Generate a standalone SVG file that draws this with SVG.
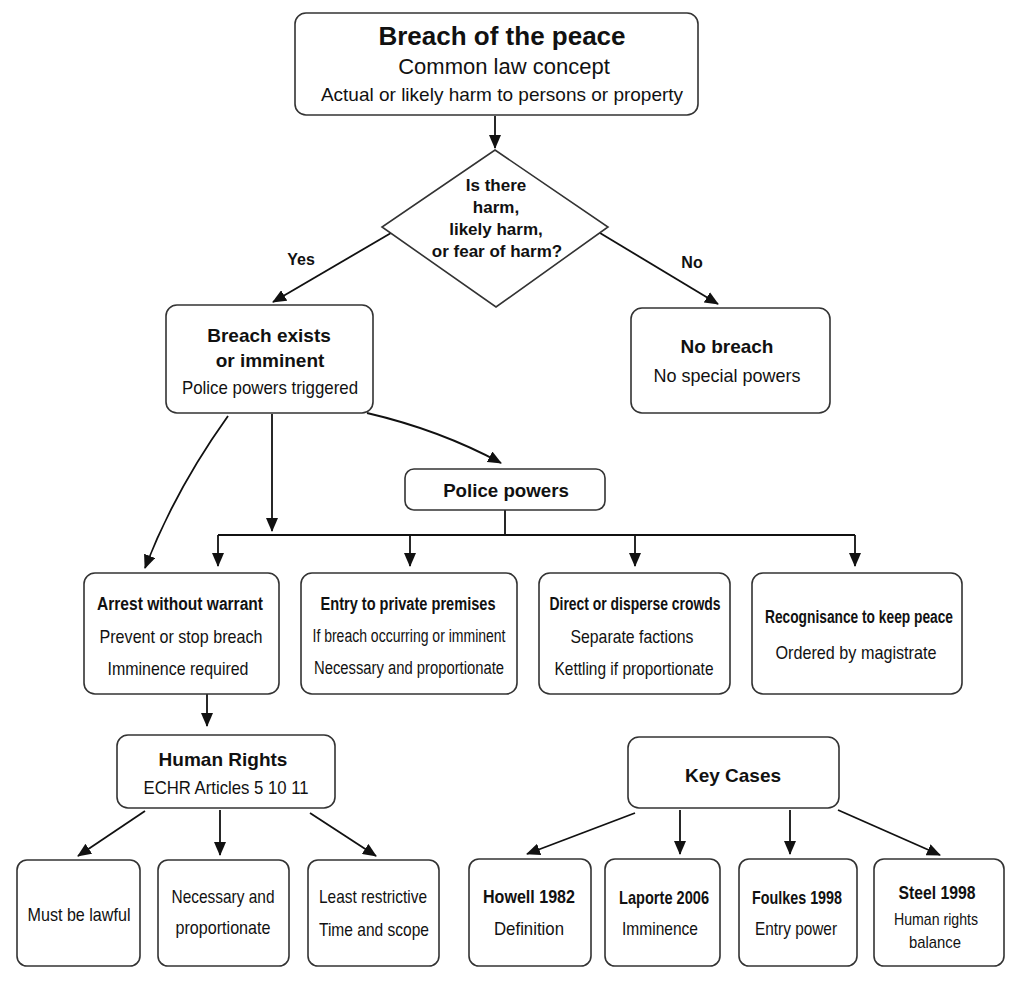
<svg xmlns="http://www.w3.org/2000/svg" width="1021" height="983" viewBox="0 0 1021 983">
<defs>
<marker id="ah" markerWidth="14" markerHeight="12" refX="13" refY="6" orient="auto" markerUnits="userSpaceOnUse"><path d="M0,0 L14,6 L0,12 Z" fill="#111"/></marker>
<style>
.box{fill:#fff;stroke:#333;stroke-width:1.6}
.t{font-family:"Liberation Sans",Arial,sans-serif;fill:#111;text-anchor:middle}
.b{font-weight:bold}
.c{fill:none;stroke:#111;stroke-width:1.8;marker-end:url(#ah)}
.l{fill:none;stroke:#111;stroke-width:1.8}
</style>
</defs>
<rect width="1021" height="983" fill="#fff"/>
<g id="connectors">
<path class="c" d="M495,116 L495,148"/>
<path class="c" d="M391,233 L273,302"/>
<path class="c" d="M600,233 L718,304"/>
<path class="c" d="M228,416 Q175,490 145,568"/>
<path class="c" d="M272,414 L272,531"/>
<path class="c" d="M367,413 Q440,430 501,463"/>
<path class="l" d="M505,510 L505,535 M218,535 L855,535"/>
<path class="c" d="M218,535 L218,566"/>
<path class="c" d="M410,535 L410,566"/>
<path class="c" d="M635,535 L635,566"/>
<path class="c" d="M855,535 L855,566"/>
<path class="c" d="M207,694 L207,726"/>
<path class="c" d="M145,811 L78,856"/>
<path class="c" d="M220,810 L220,855"/>
<path class="c" d="M310,813 L376,856"/>
<path class="c" d="M635,813 L527,854"/>
<path class="c" d="M680,810 L680,854"/>
<path class="c" d="M790,810 L790,854"/>
<path class="c" d="M838,810 L940,855"/>
<text class="t b" x="301" y="265" font-size="16">Yes</text>
<text class="t b" x="692" y="268" font-size="16">No</text>
</g>
<g id="n-top">
<rect class="box" x="295" y="13" width="403" height="102" rx="11"/>
<text class="t b" x="502" y="45" font-size="26">Breach of the peace</text>
<text class="t" x="504" y="74" font-size="22">Common law concept</text>
<text class="t" x="502" y="101" font-size="19">Actual or likely harm to persons or property</text>
</g>
<g id="n-decision">
<polygon class="box" points="495,150 608,227 496,307 382,227"/>
<text class="t b" x="496" y="191" font-size="17">Is there</text>
<text class="t b" x="496" y="213" font-size="17">harm,</text>
<text class="t b" x="496" y="235" font-size="17">likely harm,</text>
<text class="t b" x="497" y="257" font-size="17">or fear of harm?</text>
</g>
<g id="n-exists">
<rect class="box" x="166" y="305" width="207" height="108" rx="11"/>
<text class="t b" x="269" y="342" font-size="19">Breach exists</text>
<text class="t b" x="270" y="367" font-size="19">or imminent</text>
<text class="t" x="270" y="394" font-size="19" textLength="176" lengthAdjust="spacingAndGlyphs">Police powers triggered</text>
</g>
<g id="n-nobreach">
<rect class="box" x="631" y="308" width="199" height="105" rx="11"/>
<text class="t b" x="727" y="353" font-size="19">No breach</text>
<text class="t" x="727" y="382" font-size="18.5" textLength="147" lengthAdjust="spacingAndGlyphs">No special powers</text>
</g>
<g id="n-police">
<rect class="box" x="405" y="469" width="200" height="41" rx="9"/>
<text class="t b" x="506" y="497" font-size="18.7">Police powers</text>
</g>
<g id="n-arrest">
<rect class="box" x="84" y="573" width="195" height="121" rx="11"/>
<text class="t b" x="180" y="610" font-size="17.5" textLength="166" lengthAdjust="spacingAndGlyphs">Arrest without warrant</text>
<text class="t" x="181" y="643" font-size="19" textLength="163" lengthAdjust="spacingAndGlyphs">Prevent or stop breach</text>
<text class="t" x="178" y="675" font-size="19" textLength="141" lengthAdjust="spacingAndGlyphs">Imminence required</text>
</g>
<g id="n-entry">
<rect class="box" x="301" y="573" width="216" height="121" rx="11"/>
<text class="t b" x="408" y="610" font-size="17.5" textLength="175" lengthAdjust="spacingAndGlyphs">Entry to private premises</text>
<text class="t" x="409" y="642" font-size="18" textLength="193" lengthAdjust="spacingAndGlyphs">If breach occurring or imminent</text>
<text class="t" x="409" y="674" font-size="18" textLength="190" lengthAdjust="spacingAndGlyphs">Necessary and proportionate</text>
</g>
<g id="n-crowds">
<rect class="box" x="539" y="573" width="191" height="121" rx="11"/>
<text class="t b" x="635" y="610" font-size="17.5" textLength="171" lengthAdjust="spacingAndGlyphs">Direct or disperse crowds</text>
<text class="t" x="632" y="643" font-size="19" textLength="123" lengthAdjust="spacingAndGlyphs">Separate factions</text>
<text class="t" x="634" y="675" font-size="19" textLength="159" lengthAdjust="spacingAndGlyphs">Kettling if proportionate</text>
</g>
<g id="n-recog">
<rect class="box" x="752" y="573" width="210" height="121" rx="11"/>
<text class="t b" x="859" y="623" font-size="17.5" textLength="188" lengthAdjust="spacingAndGlyphs">Recognisance to keep peace</text>
<text class="t" x="856" y="659" font-size="19" textLength="161" lengthAdjust="spacingAndGlyphs">Ordered by magistrate</text>
</g>
<g id="n-hr">
<rect class="box" x="117" y="735" width="218" height="73" rx="11"/>
<text class="t b" x="223" y="766" font-size="19">Human Rights</text>
<text class="t" x="226" y="794" font-size="19" textLength="165" lengthAdjust="spacingAndGlyphs">ECHR Articles 5 10 11</text>
</g>
<g id="n-lawful">
<rect class="box" x="17" y="860" width="123" height="106" rx="10"/>
<text class="t" x="79" y="921" font-size="19" textLength="103" lengthAdjust="spacingAndGlyphs">Must be lawful</text>
</g>
<g id="n-necessary">
<rect class="box" x="158" y="860" width="131" height="106" rx="10"/>
<text class="t" x="223" y="903" font-size="19" textLength="103" lengthAdjust="spacingAndGlyphs">Necessary and</text>
<text class="t" x="223" y="934" font-size="19" textLength="95" lengthAdjust="spacingAndGlyphs">proportionate</text>
</g>
<g id="n-least">
<rect class="box" x="308" y="860" width="131" height="106" rx="10"/>
<text class="t" x="373" y="903" font-size="19" textLength="108" lengthAdjust="spacingAndGlyphs">Least restrictive</text>
<text class="t" x="374" y="936" font-size="19" textLength="110" lengthAdjust="spacingAndGlyphs">Time and scope</text>
</g>
<g id="n-keycases">
<rect class="box" x="628" y="737" width="211" height="71" rx="11"/>
<text class="t b" x="733" y="782" font-size="19">Key Cases</text>
</g>
<g id="n-howell">
<rect class="box" x="469" y="859" width="122" height="107" rx="10"/>
<text class="t b" x="529" y="903" font-size="18.5" textLength="92" lengthAdjust="spacingAndGlyphs">Howell 1982</text>
<text class="t" x="529" y="935" font-size="19" textLength="70" lengthAdjust="spacingAndGlyphs">Definition</text>
</g>
<g id="n-laporte">
<rect class="box" x="605" y="859" width="115" height="107" rx="10"/>
<text class="t b" x="664" y="904" font-size="18.5" textLength="90" lengthAdjust="spacingAndGlyphs">Laporte 2006</text>
<text class="t" x="660" y="935" font-size="19" textLength="76" lengthAdjust="spacingAndGlyphs">Imminence</text>
</g>
<g id="n-foulkes">
<rect class="box" x="739" y="859" width="118" height="107" rx="10"/>
<text class="t b" x="797" y="904" font-size="18.5" textLength="90" lengthAdjust="spacingAndGlyphs">Foulkes 1998</text>
<text class="t" x="796" y="935" font-size="19" textLength="82" lengthAdjust="spacingAndGlyphs">Entry power</text>
</g>
<g id="n-steel">
<rect class="box" x="874" y="859" width="130" height="107" rx="10"/>
<text class="t b" x="937" y="899" font-size="18.5" textLength="77" lengthAdjust="spacingAndGlyphs">Steel 1998</text>
<text class="t" x="936" y="925" font-size="17" textLength="84" lengthAdjust="spacingAndGlyphs">Human rights</text>
<text class="t" x="935" y="948" font-size="17" textLength="52" lengthAdjust="spacingAndGlyphs">balance</text>
</g>
</svg>
